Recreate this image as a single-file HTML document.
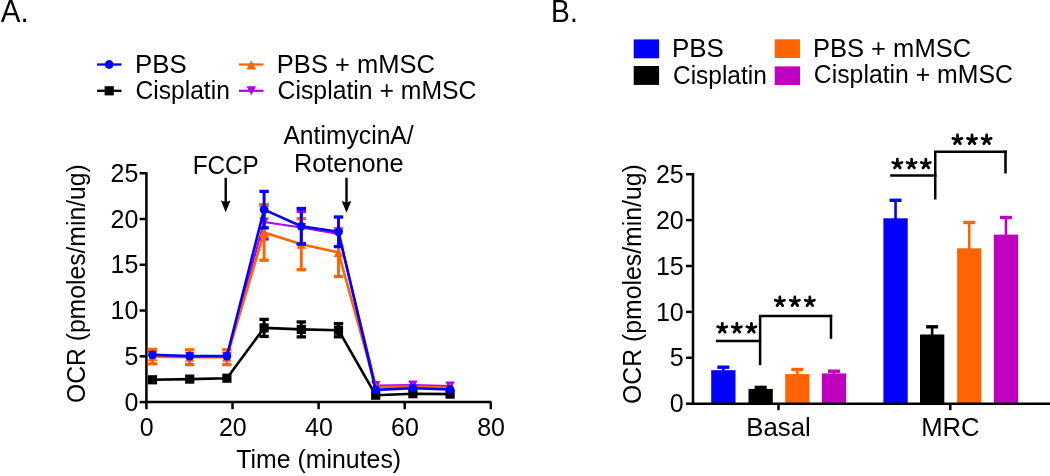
<!DOCTYPE html>
<html><head><meta charset="utf-8"><style>
html,body{margin:0;padding:0;background:#fff;width:1050px;height:476px;overflow:hidden}
svg{display:block;will-change:transform}
</style></head><body>
<svg width="1050" height="476" viewBox="0 0 1050 476">
<rect width="1050" height="476" fill="#fff"/>
<text x="0.80" y="21.7" font-family="Liberation Sans, sans-serif" font-size="30.5" textLength="27.94" lengthAdjust="spacingAndGlyphs">A.</text>
<line x1="97" y1="64.5" x2="121.5" y2="64.5" stroke="#0000ff" stroke-width="2.3" stroke-linecap="butt"/>
<circle cx="109.2" cy="64.5" r="4.4" fill="#0000ff"/>
<line x1="97" y1="90.8" x2="121.5" y2="90.8" stroke="#000000" stroke-width="2.3" stroke-linecap="butt"/>
<rect x="104.60000000000001" y="86.2" width="9.2" height="9.2" fill="#000000"/>
<text x="134.99" y="72.6" font-family="Liberation Sans, sans-serif" font-size="25" textLength="51.67" lengthAdjust="spacingAndGlyphs">PBS</text>
<text x="135.52" y="99.4" font-family="Liberation Sans, sans-serif" font-size="25" textLength="94.33" lengthAdjust="spacingAndGlyphs">Cisplatin</text>
<line x1="239" y1="64.5" x2="263.5" y2="64.5" stroke="#ff6400" stroke-width="2.2" stroke-linecap="butt"/>
<polygon points="251.3,60.4875 256.05,69.5125 246.55,69.5125" fill="#ff6400"/>
<line x1="239" y1="90.8" x2="263.5" y2="90.8" stroke="#b000f0" stroke-width="2.2" stroke-linecap="butt"/>
<polygon points="246.55,86.2875 256.05,86.2875 251.3,95.3125" fill="#b000f0"/>
<text x="276.86" y="72.7" font-family="Liberation Sans, sans-serif" font-size="25" textLength="158.07" lengthAdjust="spacingAndGlyphs">PBS + mMSC</text>
<text x="277.61" y="99.4" font-family="Liberation Sans, sans-serif" font-size="25" textLength="198.83" lengthAdjust="spacingAndGlyphs">Cisplatin + mMSC</text>
<text x="192.66" y="174.1" font-family="Liberation Sans, sans-serif" font-size="25" textLength="66.18" lengthAdjust="spacingAndGlyphs">FCCP</text>
<text x="283.40" y="143.6" font-family="Liberation Sans, sans-serif" font-size="25" textLength="130.28" lengthAdjust="spacingAndGlyphs">AntimycinA/</text>
<text x="293.98" y="172.2" font-family="Liberation Sans, sans-serif" font-size="25" textLength="109.68" lengthAdjust="spacingAndGlyphs">Rotenone</text>
<line x1="225.7" y1="177.8" x2="225.7" y2="202.6" stroke="#000" stroke-width="2.4" stroke-linecap="butt"/>
<path d="M220.89999999999998,200.6 L225.7,202.1 L230.5,200.6 L225.7,212.2 Z" fill="#000"/>
<line x1="346.5" y1="177.8" x2="346.5" y2="203.1" stroke="#000" stroke-width="2.4" stroke-linecap="butt"/>
<path d="M341.7,201.1 L346.5,202.6 L351.3,201.1 L346.5,212.7 Z" fill="#000"/>
<line x1="146.4" y1="171.95" x2="146.4" y2="403.35" stroke="#000" stroke-width="2.5" stroke-linecap="butt"/>
<line x1="145.15" y1="402.1" x2="491.5" y2="402.1" stroke="#000" stroke-width="2.5" stroke-linecap="butt"/>
<line x1="139.6" y1="402.1" x2="146.4" y2="402.1" stroke="#000" stroke-width="2.5" stroke-linecap="butt"/>
<text x="138.3" y="410.70000000000005" font-family="Liberation Sans, sans-serif" font-size="25" text-anchor="end" >0</text>
<line x1="139.6" y1="356.32000000000005" x2="146.4" y2="356.32000000000005" stroke="#000" stroke-width="2.5" stroke-linecap="butt"/>
<text x="138.3" y="364.9200000000001" font-family="Liberation Sans, sans-serif" font-size="25" text-anchor="end" >5</text>
<line x1="139.6" y1="310.54" x2="146.4" y2="310.54" stroke="#000" stroke-width="2.5" stroke-linecap="butt"/>
<text x="138.3" y="319.14000000000004" font-family="Liberation Sans, sans-serif" font-size="25" text-anchor="end" >10</text>
<line x1="139.6" y1="264.76" x2="146.4" y2="264.76" stroke="#000" stroke-width="2.5" stroke-linecap="butt"/>
<text x="138.3" y="273.36" font-family="Liberation Sans, sans-serif" font-size="25" text-anchor="end" >15</text>
<line x1="139.6" y1="218.98000000000002" x2="146.4" y2="218.98000000000002" stroke="#000" stroke-width="2.5" stroke-linecap="butt"/>
<text x="138.3" y="227.58" font-family="Liberation Sans, sans-serif" font-size="25" text-anchor="end" >20</text>
<line x1="139.6" y1="173.20000000000002" x2="146.4" y2="173.20000000000002" stroke="#000" stroke-width="2.5" stroke-linecap="butt"/>
<text x="138.3" y="181.8" font-family="Liberation Sans, sans-serif" font-size="25" text-anchor="end" >25</text>
<line x1="146.4" y1="402.1" x2="146.4" y2="409.2" stroke="#000" stroke-width="2.5" stroke-linecap="butt"/>
<text x="146.70000000000002" y="435.5" font-family="Liberation Sans, sans-serif" font-size="25" text-anchor="middle" >0</text>
<line x1="232.5" y1="402.1" x2="232.5" y2="409.2" stroke="#000" stroke-width="2.5" stroke-linecap="butt"/>
<text x="232.8" y="435.5" font-family="Liberation Sans, sans-serif" font-size="25" text-anchor="middle" >20</text>
<line x1="318.6" y1="402.1" x2="318.6" y2="409.2" stroke="#000" stroke-width="2.5" stroke-linecap="butt"/>
<text x="318.90000000000003" y="435.5" font-family="Liberation Sans, sans-serif" font-size="25" text-anchor="middle" >40</text>
<line x1="404.69999999999993" y1="402.1" x2="404.69999999999993" y2="409.2" stroke="#000" stroke-width="2.5" stroke-linecap="butt"/>
<text x="404.99999999999994" y="435.5" font-family="Liberation Sans, sans-serif" font-size="25" text-anchor="middle" >60</text>
<line x1="490.79999999999995" y1="402.1" x2="490.79999999999995" y2="409.2" stroke="#000" stroke-width="2.5" stroke-linecap="butt"/>
<text x="491.09999999999997" y="435.5" font-family="Liberation Sans, sans-serif" font-size="25" text-anchor="middle" >80</text>
<text x="236.31" y="468.2" font-family="Liberation Sans, sans-serif" font-size="25" textLength="164.85" lengthAdjust="spacingAndGlyphs">Time (minutes)</text>
<text transform="translate(84.9,284.05) rotate(-90)" x="-119.04" y="0" font-family="Liberation Sans, sans-serif" font-size="25" textLength="238.80" lengthAdjust="spacingAndGlyphs">OCR (pmoles/min/ug)</text>
<line x1="264.1" y1="205" x2="264.1" y2="239" stroke="#b000f0" stroke-width="2.9" stroke-linecap="butt"/>
<line x1="259.40000000000003" y1="205" x2="268.8" y2="205" stroke="#b000f0" stroke-width="3.3" stroke-linecap="butt"/>
<line x1="259.40000000000003" y1="239" x2="268.8" y2="239" stroke="#b000f0" stroke-width="3.3" stroke-linecap="butt"/>
<line x1="301.3" y1="211.5" x2="301.3" y2="243.5" stroke="#b000f0" stroke-width="2.9" stroke-linecap="butt"/>
<line x1="296.6" y1="211.5" x2="306.0" y2="211.5" stroke="#b000f0" stroke-width="3.3" stroke-linecap="butt"/>
<line x1="296.6" y1="243.5" x2="306.0" y2="243.5" stroke="#b000f0" stroke-width="3.3" stroke-linecap="butt"/>
<polyline points="152.5,355.5 189.7,356.5 226.9,356.5 264.1,222 301.3,227.5 338.5,234 375.70000000000005,385.5 412.90000000000003,385 450.1,386" fill="none" stroke="#b000f0" stroke-width="2.2" stroke-linejoin="round"/>
<polygon points="147.75,350.9875 157.25,350.9875 152.5,360.0125" fill="#b000f0"/>
<polygon points="184.95,351.9875 194.45,351.9875 189.7,361.0125" fill="#b000f0"/>
<polygon points="222.15,351.9875 231.65,351.9875 226.9,361.0125" fill="#b000f0"/>
<polygon points="259.35,217.4875 268.85,217.4875 264.1,226.5125" fill="#b000f0"/>
<polygon points="296.55,222.9875 306.05,222.9875 301.3,232.0125" fill="#b000f0"/>
<polygon points="333.75,229.4875 343.25,229.4875 338.5,238.5125" fill="#b000f0"/>
<polygon points="370.95000000000005,380.9875 380.45000000000005,380.9875 375.70000000000005,390.0125" fill="#b000f0"/>
<polygon points="408.15000000000003,380.4875 417.65000000000003,380.4875 412.90000000000003,389.5125" fill="#b000f0"/>
<polygon points="445.35,381.4875 454.85,381.4875 450.1,390.5125" fill="#b000f0"/>
<line x1="152.5" y1="349.40000000000003" x2="152.5" y2="363.8" stroke="#ff6400" stroke-width="2.9" stroke-linecap="butt"/>
<line x1="147.8" y1="349.40000000000003" x2="157.2" y2="349.40000000000003" stroke="#ff6400" stroke-width="3.3" stroke-linecap="butt"/>
<line x1="147.8" y1="363.8" x2="157.2" y2="363.8" stroke="#ff6400" stroke-width="3.3" stroke-linecap="butt"/>
<line x1="189.7" y1="349.8" x2="189.7" y2="364.59999999999997" stroke="#ff6400" stroke-width="2.9" stroke-linecap="butt"/>
<line x1="185.0" y1="349.8" x2="194.39999999999998" y2="349.8" stroke="#ff6400" stroke-width="3.3" stroke-linecap="butt"/>
<line x1="185.0" y1="364.59999999999997" x2="194.39999999999998" y2="364.59999999999997" stroke="#ff6400" stroke-width="3.3" stroke-linecap="butt"/>
<line x1="226.9" y1="349.8" x2="226.9" y2="364.59999999999997" stroke="#ff6400" stroke-width="2.9" stroke-linecap="butt"/>
<line x1="222.20000000000002" y1="349.8" x2="231.6" y2="349.8" stroke="#ff6400" stroke-width="3.3" stroke-linecap="butt"/>
<line x1="222.20000000000002" y1="364.59999999999997" x2="231.6" y2="364.59999999999997" stroke="#ff6400" stroke-width="3.3" stroke-linecap="butt"/>
<line x1="264.1" y1="204.8" x2="264.1" y2="260.2" stroke="#ff6400" stroke-width="2.9" stroke-linecap="butt"/>
<line x1="259.40000000000003" y1="204.8" x2="268.8" y2="204.8" stroke="#ff6400" stroke-width="3.3" stroke-linecap="butt"/>
<line x1="259.40000000000003" y1="260.2" x2="268.8" y2="260.2" stroke="#ff6400" stroke-width="3.3" stroke-linecap="butt"/>
<line x1="301.3" y1="218.7" x2="301.3" y2="269.7" stroke="#ff6400" stroke-width="2.9" stroke-linecap="butt"/>
<line x1="296.6" y1="218.7" x2="306.0" y2="218.7" stroke="#ff6400" stroke-width="3.3" stroke-linecap="butt"/>
<line x1="296.6" y1="269.7" x2="306.0" y2="269.7" stroke="#ff6400" stroke-width="3.3" stroke-linecap="butt"/>
<line x1="338.5" y1="228.5" x2="338.5" y2="276.5" stroke="#ff6400" stroke-width="2.9" stroke-linecap="butt"/>
<line x1="333.8" y1="228.5" x2="343.2" y2="228.5" stroke="#ff6400" stroke-width="3.3" stroke-linecap="butt"/>
<line x1="333.8" y1="276.5" x2="343.2" y2="276.5" stroke="#ff6400" stroke-width="3.3" stroke-linecap="butt"/>
<polyline points="152.5,356.6 189.7,357.2 226.9,357.2 264.1,232.5 301.3,244.2 338.5,252.5 375.70000000000005,387 412.90000000000003,386.9 450.1,387.5" fill="none" stroke="#ff6400" stroke-width="2.6" stroke-linejoin="round"/>
<polygon points="152.5,352.08750000000003 157.25,361.1125 147.75,361.1125" fill="#ff6400"/>
<polygon points="189.7,352.6875 194.45,361.7125 184.95,361.7125" fill="#ff6400"/>
<polygon points="226.9,352.6875 231.65,361.7125 222.15,361.7125" fill="#ff6400"/>
<polygon points="264.1,227.9875 268.85,237.0125 259.35,237.0125" fill="#ff6400"/>
<polygon points="301.3,239.6875 306.05,248.71249999999998 296.55,248.71249999999998" fill="#ff6400"/>
<polygon points="338.5,247.9875 343.25,257.0125 333.75,257.0125" fill="#ff6400"/>
<polygon points="375.70000000000005,382.4875 380.45000000000005,391.5125 370.95000000000005,391.5125" fill="#ff6400"/>
<polygon points="412.90000000000003,382.3875 417.65000000000003,391.41249999999997 408.15000000000003,391.41249999999997" fill="#ff6400"/>
<polygon points="450.1,382.9875 454.85,392.0125 445.35,392.0125" fill="#ff6400"/>
<line x1="264.1" y1="319.4" x2="264.1" y2="336.4" stroke="#000000" stroke-width="2.9" stroke-linecap="butt"/>
<line x1="259.40000000000003" y1="319.4" x2="268.8" y2="319.4" stroke="#000000" stroke-width="3.3" stroke-linecap="butt"/>
<line x1="259.40000000000003" y1="336.4" x2="268.8" y2="336.4" stroke="#000000" stroke-width="3.3" stroke-linecap="butt"/>
<line x1="301.3" y1="321.95" x2="301.3" y2="336.84999999999997" stroke="#000000" stroke-width="2.9" stroke-linecap="butt"/>
<line x1="296.6" y1="321.95" x2="306.0" y2="321.95" stroke="#000000" stroke-width="3.3" stroke-linecap="butt"/>
<line x1="296.6" y1="336.84999999999997" x2="306.0" y2="336.84999999999997" stroke="#000000" stroke-width="3.3" stroke-linecap="butt"/>
<line x1="338.5" y1="323.59999999999997" x2="338.5" y2="336.8" stroke="#000000" stroke-width="2.9" stroke-linecap="butt"/>
<line x1="333.8" y1="323.59999999999997" x2="343.2" y2="323.59999999999997" stroke="#000000" stroke-width="3.3" stroke-linecap="butt"/>
<line x1="333.8" y1="336.8" x2="343.2" y2="336.8" stroke="#000000" stroke-width="3.3" stroke-linecap="butt"/>
<polyline points="152.5,379.8 189.7,379.1 226.9,378.2 264.1,327.9 301.3,329.4 338.5,330.2 375.70000000000005,395.2 412.90000000000003,393.7 450.1,394.1" fill="none" stroke="#000000" stroke-width="2.6" stroke-linejoin="round"/>
<rect x="147.9" y="375.2" width="9.2" height="9.2" fill="#000000"/>
<rect x="185.1" y="374.5" width="9.2" height="9.2" fill="#000000"/>
<rect x="222.3" y="373.59999999999997" width="9.2" height="9.2" fill="#000000"/>
<rect x="259.5" y="323.29999999999995" width="9.2" height="9.2" fill="#000000"/>
<rect x="296.7" y="324.79999999999995" width="9.2" height="9.2" fill="#000000"/>
<rect x="333.9" y="325.59999999999997" width="9.2" height="9.2" fill="#000000"/>
<rect x="371.1" y="390.59999999999997" width="9.2" height="9.2" fill="#000000"/>
<rect x="408.3" y="389.09999999999997" width="9.2" height="9.2" fill="#000000"/>
<rect x="445.5" y="389.5" width="9.2" height="9.2" fill="#000000"/>
<line x1="264.1" y1="191.4" x2="264.1" y2="227.79999999999998" stroke="#0000ff" stroke-width="2.9" stroke-linecap="butt"/>
<line x1="259.40000000000003" y1="191.4" x2="268.8" y2="191.4" stroke="#0000ff" stroke-width="3.3" stroke-linecap="butt"/>
<line x1="259.40000000000003" y1="227.79999999999998" x2="268.8" y2="227.79999999999998" stroke="#0000ff" stroke-width="3.3" stroke-linecap="butt"/>
<line x1="301.3" y1="208.5" x2="301.3" y2="244.10000000000002" stroke="#0000ff" stroke-width="2.9" stroke-linecap="butt"/>
<line x1="296.6" y1="208.5" x2="306.0" y2="208.5" stroke="#0000ff" stroke-width="3.3" stroke-linecap="butt"/>
<line x1="296.6" y1="244.10000000000002" x2="306.0" y2="244.10000000000002" stroke="#0000ff" stroke-width="3.3" stroke-linecap="butt"/>
<line x1="338.5" y1="217.0" x2="338.5" y2="246.60000000000002" stroke="#0000ff" stroke-width="2.9" stroke-linecap="butt"/>
<line x1="333.8" y1="217.0" x2="343.2" y2="217.0" stroke="#0000ff" stroke-width="3.3" stroke-linecap="butt"/>
<line x1="333.8" y1="246.60000000000002" x2="343.2" y2="246.60000000000002" stroke="#0000ff" stroke-width="3.3" stroke-linecap="butt"/>
<polyline points="152.5,354.8 189.7,356.1 226.9,356.1 264.1,209.6 301.3,226.3 338.5,231.8 375.70000000000005,389.9 412.90000000000003,388.2 450.1,389.5" fill="none" stroke="#0000ff" stroke-width="2.6" stroke-linejoin="round"/>
<circle cx="152.5" cy="354.8" r="4.4" fill="#0000ff"/>
<circle cx="189.7" cy="356.1" r="4.4" fill="#0000ff"/>
<circle cx="226.9" cy="356.1" r="4.4" fill="#0000ff"/>
<circle cx="264.1" cy="209.6" r="4.4" fill="#0000ff"/>
<circle cx="301.3" cy="226.3" r="4.4" fill="#0000ff"/>
<circle cx="338.5" cy="231.8" r="4.4" fill="#0000ff"/>
<circle cx="375.70000000000005" cy="389.9" r="4.4" fill="#0000ff"/>
<circle cx="412.90000000000003" cy="388.2" r="4.4" fill="#0000ff"/>
<circle cx="450.1" cy="389.5" r="4.4" fill="#0000ff"/>
<text transform="translate(551.12,21.5) scale(1,1.02)" x="0" y="0" font-family="Liberation Sans, sans-serif" font-size="30" textLength="26.59" lengthAdjust="spacingAndGlyphs">B.</text>
<rect x="633.7" y="39.4" width="25.4" height="18.9" fill="#0000ff"/>
<rect x="633.7" y="66.0" width="25.4" height="18.9" fill="#000000"/>
<rect x="774.7" y="39.3" width="25.3" height="18.7" fill="#ff6400"/>
<rect x="774.7" y="66.4" width="25.3" height="18.6" fill="#c000c0"/>
<text x="671.92" y="57.4" font-family="Liberation Sans, sans-serif" font-size="25" textLength="52.05" lengthAdjust="spacingAndGlyphs">PBS</text>
<text x="673.02" y="83.5" font-family="Liberation Sans, sans-serif" font-size="25" textLength="93.71" lengthAdjust="spacingAndGlyphs">Cisplatin</text>
<text x="812.96" y="57.2" font-family="Liberation Sans, sans-serif" font-size="25" textLength="158.17" lengthAdjust="spacingAndGlyphs">PBS + mMSC</text>
<text x="813.81" y="83.3" font-family="Liberation Sans, sans-serif" font-size="25" textLength="199.04" lengthAdjust="spacingAndGlyphs">Cisplatin + mMSC</text>
<rect x="711.2" y="370.2" width="24.3" height="33.5" fill="#0000ff"/>
<line x1="723.35" y1="367.2" x2="723.35" y2="371.2" stroke="#0000ff" stroke-width="2.6" stroke-linecap="butt"/>
<line x1="717.35" y1="367.2" x2="729.35" y2="367.2" stroke="#0000ff" stroke-width="3.4" stroke-linecap="butt"/>
<rect x="748.5" y="388.9" width="24.3" height="14.800000000000011" fill="#000000"/>
<line x1="760.65" y1="387.4" x2="760.65" y2="389.9" stroke="#000000" stroke-width="2.6" stroke-linecap="butt"/>
<line x1="754.65" y1="387.4" x2="766.65" y2="387.4" stroke="#000000" stroke-width="3.4" stroke-linecap="butt"/>
<rect x="785.2" y="374.1" width="24.3" height="29.599999999999966" fill="#ff6400"/>
<line x1="797.35" y1="369.5" x2="797.35" y2="375.1" stroke="#ff6400" stroke-width="2.6" stroke-linecap="butt"/>
<line x1="791.35" y1="369.5" x2="803.35" y2="369.5" stroke="#ff6400" stroke-width="3.4" stroke-linecap="butt"/>
<rect x="821.8" y="373.4" width="24.3" height="30.30000000000001" fill="#c000c0"/>
<line x1="833.9499999999999" y1="371.2" x2="833.9499999999999" y2="374.4" stroke="#c000c0" stroke-width="2.6" stroke-linecap="butt"/>
<line x1="827.9499999999999" y1="371.2" x2="839.9499999999999" y2="371.2" stroke="#c000c0" stroke-width="3.4" stroke-linecap="butt"/>
<rect x="883.4" y="218.3" width="24.3" height="185.39999999999998" fill="#0000ff"/>
<line x1="895.55" y1="200.3" x2="895.55" y2="219.3" stroke="#0000ff" stroke-width="2.6" stroke-linecap="butt"/>
<line x1="889.55" y1="200.3" x2="901.55" y2="200.3" stroke="#0000ff" stroke-width="3.4" stroke-linecap="butt"/>
<rect x="920.0" y="334.5" width="24.3" height="69.19999999999999" fill="#000000"/>
<line x1="932.15" y1="326.8" x2="932.15" y2="335.5" stroke="#000000" stroke-width="2.6" stroke-linecap="butt"/>
<line x1="926.15" y1="326.8" x2="938.15" y2="326.8" stroke="#000000" stroke-width="3.4" stroke-linecap="butt"/>
<rect x="957.1" y="248.3" width="24.3" height="155.39999999999998" fill="#ff6400"/>
<line x1="969.25" y1="222.5" x2="969.25" y2="249.3" stroke="#ff6400" stroke-width="2.6" stroke-linecap="butt"/>
<line x1="963.25" y1="222.5" x2="975.25" y2="222.5" stroke="#ff6400" stroke-width="3.4" stroke-linecap="butt"/>
<rect x="993.8" y="234.6" width="24.3" height="169.1" fill="#c000c0"/>
<line x1="1005.9499999999999" y1="217.5" x2="1005.9499999999999" y2="235.6" stroke="#c000c0" stroke-width="2.6" stroke-linecap="butt"/>
<line x1="999.9499999999999" y1="217.5" x2="1011.9499999999999" y2="217.5" stroke="#c000c0" stroke-width="3.4" stroke-linecap="butt"/>
<line x1="693.0" y1="172.95" x2="693.0" y2="404.95" stroke="#000" stroke-width="2.5" stroke-linecap="butt"/>
<line x1="691.75" y1="403.7" x2="1050" y2="403.7" stroke="#000" stroke-width="2.5" stroke-linecap="butt"/>
<line x1="686" y1="403.7" x2="693.0" y2="403.7" stroke="#000" stroke-width="2.5" stroke-linecap="butt"/>
<text x="683.7" y="412.3" font-family="Liberation Sans, sans-serif" font-size="25" text-anchor="end" >0</text>
<line x1="686" y1="357.8" x2="693.0" y2="357.8" stroke="#000" stroke-width="2.5" stroke-linecap="butt"/>
<text x="683.7" y="366.40000000000003" font-family="Liberation Sans, sans-serif" font-size="25" text-anchor="end" >5</text>
<line x1="686" y1="311.9" x2="693.0" y2="311.9" stroke="#000" stroke-width="2.5" stroke-linecap="butt"/>
<text x="683.7" y="320.5" font-family="Liberation Sans, sans-serif" font-size="25" text-anchor="end" >10</text>
<line x1="686" y1="266.0" x2="693.0" y2="266.0" stroke="#000" stroke-width="2.5" stroke-linecap="butt"/>
<text x="683.7" y="274.6" font-family="Liberation Sans, sans-serif" font-size="25" text-anchor="end" >15</text>
<line x1="686" y1="220.1" x2="693.0" y2="220.1" stroke="#000" stroke-width="2.5" stroke-linecap="butt"/>
<text x="683.7" y="228.7" font-family="Liberation Sans, sans-serif" font-size="25" text-anchor="end" >20</text>
<line x1="686" y1="174.2" x2="693.0" y2="174.2" stroke="#000" stroke-width="2.5" stroke-linecap="butt"/>
<text x="683.7" y="182.79999999999998" font-family="Liberation Sans, sans-serif" font-size="25" text-anchor="end" >25</text>
<line x1="778.5" y1="403.7" x2="778.5" y2="410.2" stroke="#000" stroke-width="2.5" stroke-linecap="butt"/>
<line x1="950.3" y1="403.7" x2="950.3" y2="410.2" stroke="#000" stroke-width="2.5" stroke-linecap="butt"/>
<text x="746.24" y="436" font-family="Liberation Sans, sans-serif" font-size="25" textLength="64.46" lengthAdjust="spacingAndGlyphs">Basal</text>
<text x="921.15" y="435.7" font-family="Liberation Sans, sans-serif" font-size="25" textLength="58.41" lengthAdjust="spacingAndGlyphs">MRC</text>
<text transform="translate(640.8,284.5) rotate(-90)" x="-119.49" y="0" font-family="Liberation Sans, sans-serif" font-size="25" textLength="239.71" lengthAdjust="spacingAndGlyphs">OCR (pmoles/min/ug)</text>
<line x1="715.9" y1="341" x2="761.2" y2="341" stroke="#000" stroke-width="2.5" stroke-linecap="butt"/>
<line x1="760.1" y1="316" x2="760.1" y2="365.2" stroke="#000" stroke-width="2.5" stroke-linecap="butt"/>
<line x1="758.9" y1="316" x2="832.2" y2="316" stroke="#000" stroke-width="2.5" stroke-linecap="butt"/>
<line x1="831" y1="314.8" x2="831" y2="338.8" stroke="#000" stroke-width="2.5" stroke-linecap="butt"/>
<path d="M722.2650712782166,328.2 L722.27,323.40 M722.2650712782166,328.2 L726.83,326.72 M722.2650712782166,328.2 L725.09,332.08 M722.2650712782166,328.2 L719.44,332.08 M722.2650712782166,328.2 L717.70,326.72 " stroke="#000" stroke-width="2.8" stroke-linecap="round" fill="none"/>
<path d="M736.8499999999999,328.2 L736.85,323.40 M736.8499999999999,328.2 L741.42,326.72 M736.8499999999999,328.2 L739.67,332.08 M736.8499999999999,328.2 L734.03,332.08 M736.8499999999999,328.2 L732.28,326.72 " stroke="#000" stroke-width="2.8" stroke-linecap="round" fill="none"/>
<path d="M751.4349287217833,328.2 L751.43,323.40 M751.4349287217833,328.2 L756.00,326.72 M751.4349287217833,328.2 L754.26,332.08 M751.4349287217833,328.2 L748.61,332.08 M751.4349287217833,328.2 L746.87,326.72 " stroke="#000" stroke-width="2.8" stroke-linecap="round" fill="none"/>
<path d="M779.8650712782166,301.7 L779.87,296.90 M779.8650712782166,301.7 L784.43,300.22 M779.8650712782166,301.7 L782.69,305.58 M779.8650712782166,301.7 L777.04,305.58 M779.8650712782166,301.7 L775.30,300.22 " stroke="#000" stroke-width="2.8" stroke-linecap="round" fill="none"/>
<path d="M794.8499999999999,301.7 L794.85,296.90 M794.8499999999999,301.7 L799.42,300.22 M794.8499999999999,301.7 L797.67,305.58 M794.8499999999999,301.7 L792.03,305.58 M794.8499999999999,301.7 L790.28,300.22 " stroke="#000" stroke-width="2.8" stroke-linecap="round" fill="none"/>
<path d="M809.8349287217833,301.7 L809.83,296.90 M809.8349287217833,301.7 L814.40,300.22 M809.8349287217833,301.7 L812.66,305.58 M809.8349287217833,301.7 L807.01,305.58 M809.8349287217833,301.7 L805.27,300.22 " stroke="#000" stroke-width="2.8" stroke-linecap="round" fill="none"/>
<line x1="890.2" y1="175.45" x2="936.5" y2="175.45" stroke="#000" stroke-width="2.5" stroke-linecap="butt"/>
<line x1="935.25" y1="151.7" x2="935.25" y2="199.5" stroke="#000" stroke-width="2.5" stroke-linecap="butt"/>
<line x1="934" y1="151.7" x2="1006.7" y2="151.7" stroke="#000" stroke-width="2.5" stroke-linecap="butt"/>
<line x1="1005.5" y1="150.45" x2="1005.5" y2="173.5" stroke="#000" stroke-width="2.5" stroke-linecap="butt"/>
<path d="M897.3650712782166,164.00000000000003 L897.37,159.20 M897.3650712782166,164.00000000000003 L901.93,162.52 M897.3650712782166,164.00000000000003 L900.19,167.88 M897.3650712782166,164.00000000000003 L894.54,167.88 M897.3650712782166,164.00000000000003 L892.80,162.52 " stroke="#000" stroke-width="2.8" stroke-linecap="round" fill="none"/>
<path d="M911.5999999999999,164.00000000000003 L911.60,159.20 M911.5999999999999,164.00000000000003 L916.17,162.52 M911.5999999999999,164.00000000000003 L914.42,167.88 M911.5999999999999,164.00000000000003 L908.78,167.88 M911.5999999999999,164.00000000000003 L907.03,162.52 " stroke="#000" stroke-width="2.8" stroke-linecap="round" fill="none"/>
<path d="M925.8349287217833,164.00000000000003 L925.83,159.20 M925.8349287217833,164.00000000000003 L930.40,162.52 M925.8349287217833,164.00000000000003 L928.66,167.88 M925.8349287217833,164.00000000000003 L923.01,167.88 M925.8349287217833,164.00000000000003 L921.27,162.52 " stroke="#000" stroke-width="2.8" stroke-linecap="round" fill="none"/>
<path d="M957.4650712782167,139.8 L957.47,135.00 M957.4650712782167,139.8 L962.03,138.32 M957.4650712782167,139.8 L960.29,143.68 M957.4650712782167,139.8 L954.64,143.68 M957.4650712782167,139.8 L952.90,138.32 " stroke="#000" stroke-width="2.8" stroke-linecap="round" fill="none"/>
<path d="M972.05,139.8 L972.05,135.00 M972.05,139.8 L976.62,138.32 M972.05,139.8 L974.87,143.68 M972.05,139.8 L969.23,143.68 M972.05,139.8 L967.48,138.32 " stroke="#000" stroke-width="2.8" stroke-linecap="round" fill="none"/>
<path d="M986.6349287217834,139.8 L986.63,135.00 M986.6349287217834,139.8 L991.20,138.32 M986.6349287217834,139.8 L989.46,143.68 M986.6349287217834,139.8 L983.81,143.68 M986.6349287217834,139.8 L982.07,138.32 " stroke="#000" stroke-width="2.8" stroke-linecap="round" fill="none"/>
</svg>
</body></html>
